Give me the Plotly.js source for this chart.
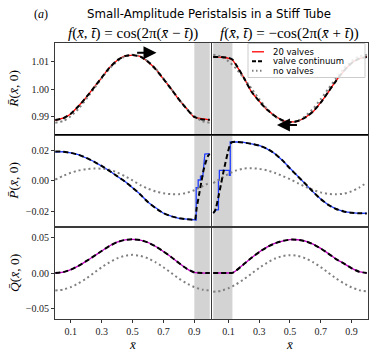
<!DOCTYPE html>
<html><head><meta charset="utf-8">
<script src="https://cdn.plot.ly/plotly-3.0.1.min.js"></script>
<style>html,body{margin:0;padding:0;background:#fff}#plot{width:374px;height:356px}</style>
</head><body><div id="plot"></div>
<script>
// ---------- data ----------
const xGrid = [0,0.05,0.1,0.15,0.2,0.25,0.3,0.35,0.4,0.45,0.5,0.55,0.6,0.65,0.7,0.75,0.8,0.85,0.9,0.95,1.0];
const xGridR = [0,0.05,0.1,0.125,0.15,0.2,0.25,0.3,0.35,0.4,0.45,0.5,0.55,0.6,0.65,0.7,0.75,0.8,0.85,0.9,0.95,1.0];

// R panel (radius)
const R_cont_L  = [0.9887,0.9893,0.9910,0.9937,0.9970,1.0005,1.0042,1.0077,1.0105,1.0120,1.0124,1.0118,1.0100,1.0072,1.0037,1.0000,0.9962,0.9928,0.9898,0.9889,0.9888];
const R_valv_L  = [0.9886,0.9894,0.9909,0.9938,0.9969,1.0006,1.0041,1.0078,1.0104,1.0121,1.0123,1.0119,1.0099,1.0073,1.0036,1.0001,0.9961,0.9929,0.9897,0.9892,0.9887];
const R_none_L  = [0.9877,0.9883,0.9901,0.9928,0.9963,1.0001,1.0039,1.0074,1.0101,1.0119,1.0125,1.0119,1.0101,1.0074,1.0039,1.0001,0.9963,0.9928,0.9901,0.9883,0.9877];
const R_cont_R  = [1.0117,1.0117,1.0114,1.0108,1.0088,1.0040,0.9990,0.9955,0.9925,0.9902,0.9886,0.9879,0.9883,0.9896,0.9918,0.9950,0.9990,1.0030,1.0066,1.0094,1.0111,1.0117];
const R_valv_R  = [1.0118,1.0116,1.0112,1.0106,1.0086,1.0041,0.9989,0.9956,0.9924,0.9903,0.9885,0.9880,0.9882,0.9897,0.9917,0.9951,0.9989,1.0031,1.0065,1.0095,1.0110,1.0118];
const R_none_R  = [1.0125,1.0119,1.0101,1.0074,1.0039,1.0001,0.9963,0.9928,0.9901,0.9883,0.9877,0.9883,0.9901,0.9928,0.9963,1.0001,1.0039,1.0074,1.0101,1.0119,1.0125];

// P panel (pressure)
const xP_cont_L = [0,0.05,0.1,0.15,0.2,0.25,0.3,0.35,0.4,0.45,0.5,0.55,0.6,0.65,0.7,0.75,0.8,0.85,0.9,0.905,0.915,0.93,0.945,0.96,0.975,0.99,1.0];
const P_cont_L  = [0.0192,0.0190,0.0183,0.0170,0.0150,0.0125,0.0097,0.0065,0.0030,-0.0005,-0.0045,-0.0090,-0.0140,-0.0180,-0.0212,-0.0233,-0.0245,-0.0252,-0.0256,-0.0256,-0.0180,-0.0095,-0.0010,0.0070,0.0125,0.0165,0.0176];
const xP_valv_L = [0,0.05,0.1,0.15,0.2,0.25,0.3,0.35,0.4,0.45,0.5,0.55,0.6,0.65,0.7,0.75,0.8,0.85,0.9,0.912,0.912,0.925,0.925,0.94,0.94,0.955,0.968,0.998];
const P_valv_L  = [0.0188,0.0191,0.0182,0.0171,0.0149,0.0126,0.0096,0.0066,0.0029,-0.0004,-0.0046,-0.0089,-0.0141,-0.0179,-0.0213,-0.0232,-0.0246,-0.0251,-0.0257,-0.0257,-0.0045,-0.0045,0.0005,0.0005,0.0030,0.0030,0.0175,0.0178];
const P_none_L  = [0.0008,0.0032,0.0052,0.0067,0.0076,0.0080,0.0079,0.0072,0.0055,0.0030,0.0002,-0.0028,-0.0052,-0.0070,-0.0082,-0.0088,-0.0088,-0.0080,-0.0062,-0.0038,-0.0012];
const xP_cont_R = [0,0.01,0.02,0.035,0.05,0.065,0.08,0.095,0.11,0.12,0.15,0.2,0.25,0.3,0.35,0.4,0.45,0.5,0.55,0.6,0.65,0.7,0.75,0.8,0.85,0.9,0.95,1.0];
const P_cont_R  = [-0.0212,-0.0200,-0.0170,-0.0100,-0.0025,0.0050,0.0120,0.0185,0.0238,0.0252,0.0255,0.0250,0.0242,0.0230,0.0210,0.0178,0.0135,0.0080,0.0030,-0.0020,-0.0072,-0.0120,-0.0158,-0.0185,-0.0201,-0.0210,-0.0213,-0.0214];
const xP_valv_R = [0,0.015,0.034,0.034,0.04,0.04,0.105,0.105,0.111,0.111,0.15,0.2,0.25,0.3,0.35,0.4,0.45,0.5,0.55,0.6,0.65,0.7,0.75,0.8,0.85,0.9,0.95,1.0];
const P_valv_R  = [-0.0212,-0.0192,-0.0190,0.0005,0.0005,0.0068,0.0068,0.0035,0.0035,0.0255,0.0254,0.0251,0.0241,0.0231,0.0209,0.0179,0.0134,0.0081,0.0029,-0.0019,-0.0073,-0.0119,-0.0159,-0.0184,-0.0202,-0.0209,-0.0214,-0.0213];
const P_none_R  = [-0.0015,0.0015,0.0045,0.0068,0.0080,0.0082,0.0078,0.0068,0.0052,0.0032,0.0010,-0.0015,-0.0040,-0.0060,-0.0076,-0.0086,-0.0089,-0.0085,-0.0070,-0.0045,-0.0012];

// Q panel (flux)
const Q_cont_L  = [0,0.0012,0.0046,0.0100,0.0166,0.0236,0.0308,0.0378,0.0432,0.0463,0.0472,0.0462,0.0428,0.0372,0.0302,0.0225,0.0140,0.0062,0.0008,0,0];
const Q_valv_L  = [0,0.0012,0.0046,0.0100,0.0166,0.0236,0.0308,0.0378,0.0432,0.0463,0.0472,0.0462,0.0428,0.0372,0.0302,0.0225,0.0140,0.0062,0.0008,0,0];
const Q_none_L  = [-0.0245,-0.0233,-0.0198,-0.0145,-0.0078,0.0002,0.0080,0.0150,0.0205,0.0240,0.0255,0.0240,0.0205,0.0150,0.0080,0.0002,-0.0078,-0.0145,-0.0198,-0.0233,-0.0245];
const Q_cont_R  = [0,0,0,0.0002,0.0035,0.0125,0.0215,0.0295,0.0362,0.0414,0.0448,0.0468,0.0466,0.0446,0.0405,0.0345,0.0272,0.0195,0.0135,0.0068,0.0018,0];
const Q_valv_R  = [0,0,0,0.0002,0.0035,0.0125,0.0215,0.0295,0.0362,0.0414,0.0448,0.0468,0.0466,0.0446,0.0405,0.0345,0.0272,0.0195,0.0135,0.0068,0.0018,0];
const Q_none_R  = [-0.0262,-0.0250,-0.0213,-0.0158,-0.0088,-0.0008,0.0072,0.0143,0.0200,0.0237,0.0250,0.0240,0.0206,0.0152,0.0083,0.0003,-0.0076,-0.0145,-0.0200,-0.0240,-0.0257];

const valveBandL = [0.9, 1.0];
const valveBandR = [0.0, 0.125];
const arrowL = {x:[0.52,0.655], y:1.0132};
const arrowR = {x:[0.555,0.415], y:0.9869};

const xTicks = [0.1,0.3,0.5,0.7,0.9];
const yTicks = [[0.99,1.00,1.01],[-0.02,0,0.02],[-0.05,0,0.05]];
const yRanges = [[0.9834,1.0168],[-0.0303,0.0303],[-0.0645,0.0645]];
const xRanges = [[-0.002,1.006],[-0.006,1.01]];
const legendNames = ['20 valves','valve continuum','no valves'];
const valveColors = ['#ff0000','#1f3cff','#c000c0'];

// ---------- layout helpers ----------
const W=374,H=356;
const colDom = [[55/W,210.7/W],[212.3/W,368.3/W]];
const rowDom = [[1-134.5/H,1-43/H],[1-227/H,1-134.5/H],[1-319/H,1-227/H]];
const serif = 'Liberation Serif, DejaVu Serif, serif';
const sans = 'DejaVu Sans, Liberation Sans, sans-serif';

const styles = {
  valves:(c)=>({color:c,width:1.3}),
  cont:{color:'#000',width:2,dash:'5px,3px'},
  none:{color:'#808080',width:2,dash:'2px,3px'}
};

const panels = [
  [0,0,xGrid,R_valv_L,xGrid,R_cont_L,xGrid,R_none_L],
  [0,1,xGridR,R_valv_R,xGridR,R_cont_R,xGrid,R_none_R],
  [1,0,xP_valv_L,P_valv_L,xP_cont_L,P_cont_L,xGrid,P_none_L],
  [1,1,xP_valv_R,P_valv_R,xP_cont_R,P_cont_R,xGrid,P_none_R],
  [2,0,xGrid,Q_valv_L,xGrid,Q_cont_L,xGrid,Q_none_L],
  [2,1,xGridR,Q_valv_R,xGridR,Q_cont_R,xGrid,Q_none_R],
];

const data=[]; const layout={
  width:W,height:H,margin:{l:0,r:0,t:0,b:0},
  paper_bgcolor:'#fff',plot_bgcolor:'#fff',
  showlegend:false,
  shapes:[],annotations:[]
};

panels.forEach((p,i)=>{
  const k=i+1, row=p[0], col=p[1];
  const xa = k===1?'x':'x'+k, ya = k===1?'y':'y'+k;
  data.push({x:p[2],y:p[3],xaxis:xa,yaxis:ya,mode:'lines',type:'scatter',
    line:Object.assign(styles.valves(valveColors[row]),{shape:(row===1?'linear':'spline'),smoothing:0.6}),
    name:legendNames[0],hoverinfo:'skip'});
  data.push({x:p[6],y:p[7],xaxis:xa,yaxis:ya,mode:'lines',type:'scatter',
    line:Object.assign({},styles.none,{shape:'spline',smoothing:0.6}),
    name:legendNames[2],hoverinfo:'skip'});
  data.push({x:p[4],y:p[5],xaxis:xa,yaxis:ya,mode:'lines',type:'scatter',
    line:Object.assign({},styles.cont,{shape:'spline',smoothing:0.5}),
    name:legendNames[1],hoverinfo:'skip'});
  const xk = k===1?'xaxis':'xaxis'+k, yk = k===1?'yaxis':'yaxis'+k;
  layout[xk]={domain:colDom[col],anchor:ya,range:xRanges[col],tickvals:xTicks,tickformat:'.1f',
    showticklabels:row===2,ticks:row===2?'outside':'',ticklen:3,tickcolor:'#333',
    showline:true,mirror:true,linecolor:'#3a3a3a',linewidth:1,showgrid:false,zeroline:false,
    tickfont:{family:serif,size:10,color:'#222'}};
  layout[yk]={domain:rowDom[row],anchor:xa,range:yRanges[row],tickvals:yTicks[row],tickformat:'.2f',
    showticklabels:col===0,ticks:col===0?'outside':'',ticklen:3,tickcolor:'#333',
    showline:true,mirror:true,linecolor:'#3a3a3a',linewidth:1,showgrid:false,zeroline:false,
    tickfont:{family:serif,size:10,color:'#222'}};
  const band = col===0?valveBandL:valveBandR;
  layout.shapes.push({type:'rect',xref:xa,yref:ya+' domain',x0:band[0],x1:band[1],y0:0,y1:1,
    fillcolor:'#d3d3d3',line:{width:0},layer:'below'});
});
// black separator between R and P rows
layout.shapes.push({type:'line',xref:'paper',yref:'paper',x0:colDom[0][0],x1:colDom[1][1],y0:rowDom[0][0],y1:rowDom[0][0],line:{color:'#000',width:1}});

// arrows
layout.annotations.push({xref:'x',yref:'y',axref:'x',ayref:'y',x:arrowL.x[1],y:arrowL.y,ax:arrowL.x[0],ay:arrowL.y,
  showarrow:true,arrowhead:2,arrowsize:1.3,arrowwidth:2,arrowcolor:'#000',text:''});
layout.annotations.push({xref:'x2',yref:'y2',axref:'x2',ayref:'y2',x:arrowR.x[1],y:arrowR.y,ax:arrowR.x[0],ay:arrowR.y,
  showarrow:true,arrowhead:2,arrowsize:1.3,arrowwidth:2,arrowcolor:'#000',text:''});

function ann(text,x,y,opts){layout.annotations.push(Object.assign({text:text,x:x/W,y:1-y/H,xref:'paper',yref:'paper',showarrow:false,xanchor:'center',yanchor:'middle'},opts||{}));}

// compact legend (box, line samples, labels)
const lg = {x0:248,x1:365,y0:43.5,y1:77.5,rows:[51.8,61.3,70.8],lx0:252,lx1:264,tx:271};
layout.shapes.push({type:'rect',xref:'paper',yref:'paper',x0:lg.x0/W,x1:lg.x1/W,y0:1-lg.y1/H,y1:1-lg.y0/H,
  fillcolor:'rgba(255,255,255,0.85)',line:{color:'#cccccc',width:1},layer:'above'});
const legStyles=[styles.valves(valveColors[0]),{color:'#000',width:2,dash:'4px,2px'},{color:'#808080',width:2,dash:'1.5px,2.5px'}];
legendNames.forEach((n,i)=>{
  layout.shapes.push({type:'line',xref:'paper',yref:'paper',x0:lg.lx0/W,x1:lg.lx1/W,y0:1-lg.rows[i]/H,y1:1-lg.rows[i]/H,line:legStyles[i],layer:'above'});
  ann(n,lg.tx,lg.rows[i],{xanchor:'left',font:{family:sans,size:8.5,color:'#000'}});
});

const xb = '<i>x\u0304</i>';
const tb = '<i>t\u0304</i>';
ann('(<i>a</i>)',41,14,{font:{family:serif,size:12,color:'#000'}});
ann('Small-Amplitude Peristalsis in a Stiff Tube',209,14,{font:{family:sans,size:11.8,color:'#000'}});
ann('<i>f</i>('+xb+', '+tb+') = cos(2π('+xb+' − '+tb+'))',132.5,33,{font:{family:serif,size:15,color:'#000'}});
ann('<i>f</i>('+xb+', '+tb+') = −cos(2π('+xb+' + '+tb+'))',289,33,{font:{family:serif,size:15,color:'#000'}});
const yl = ['<i>R\u0304</i>('+xb+', 0)','<i>P\u0304</i>('+xb+', 0)','<i>Q\u0304</i>('+xb+', 0)'];
const rowCenters=[88.7,180.7,273];
yl.forEach((t,i)=>ann(t,14,rowCenters[i],{textangle:-90,font:{family:serif,size:13.5,color:'#000'}}));
ann(xb,132,344,{font:{family:serif,size:13,color:'#000'}});
ann(xb,289,344,{font:{family:serif,size:13,color:'#000'}});

Plotly.newPlot('plot',data,layout,{staticPlot:true,displayModeBar:false});
</script>
</body></html>
